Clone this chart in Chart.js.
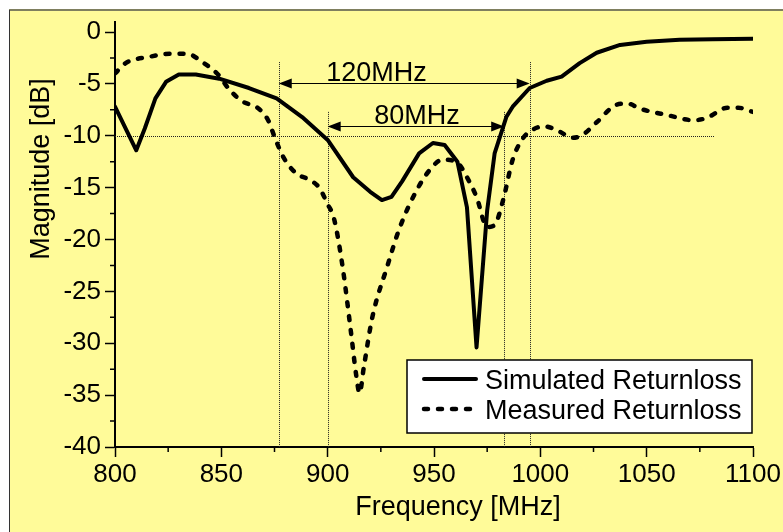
<!DOCTYPE html>
<html>
<head>
<meta charset="utf-8">
<script src="https://cdn.jsdelivr.net/npm/chart.js@4"></script>
<style>
html, body { margin: 0; padding: 0; background: #fff; }
#wrap { width: 783px; height: 532px; }
</style>
</head>
<body>
<div id="wrap"><canvas id="chart"></canvas></div>
<script>
// Simulated return loss (solid)
const simFreq = [800, 810, 814, 819, 824, 830, 838, 849, 863, 876, 888, 900, 912, 920, 925.5, 930, 935, 943, 949.5, 955, 961, 965.5, 970, 975, 978.5, 984, 987, 995, 1003, 1010, 1018.5, 1026.5, 1037.5, 1050, 1065.5, 1081, 1100];
const simMag = [-7.2, -11.4, -9.3, -6.4, -4.8, -4.1, -4.1, -4.5, -5.4, -6.4, -8.2, -10.4, -14.0, -15.4, -16.2, -15.9, -14.4, -11.7, -10.7, -10.9, -12.5, -16.9, -30.4, -17.2, -11.7, -8.2, -7.2, -5.4, -4.7, -4.3, -3.0, -2.0, -1.25, -0.95, -0.75, -0.7, -0.65];

// Measured return loss (dashed)
const measFreq = [800, 805, 816, 826, 834, 841, 848, 854, 860, 867, 872, 875, 879, 885, 892, 896, 900, 903, 907, 911, 913.5, 915, 917, 921, 928, 934, 942, 948, 954, 961, 965.5, 970, 975, 978.5, 982.5, 987, 992, 996.5, 1002, 1009, 1015, 1020, 1026.5, 1036, 1041, 1047, 1059.5, 1072, 1078, 1088, 1093, 1100];
const measMag = [-4.0, -3.0, -2.4, -2.1, -2.1, -2.9, -4.0, -5.6, -6.7, -7.3, -8.5, -10.1, -12.0, -13.6, -14.3, -15.0, -16.6, -18.0, -22.6, -29.0, -33.2, -34.8, -32.3, -27.5, -22.6, -18.8, -15.2, -13.3, -12.3, -12.6, -14.0, -15.9, -18.8, -18.6, -16.2, -12.3, -10.2, -9.4, -9.1, -9.6, -10.2, -9.9, -8.7, -7.0, -6.9, -7.4, -8.0, -8.5, -8.3, -7.3, -7.3, -7.7];

const freqTicks = [800, 850, 900, 950, 1000, 1050, 1100];
const freqMinor = [825, 875, 925, 975, 1025, 1075];
const magTicks = [0, -5, -10, -15, -20, -25, -30, -35, -40];
const magMinor = [-2.5, -7.5, -12.5, -17.5, -22.5, -27.5, -32.5, -37.5];

// bandwidth markers
const bandLabel = ["120MHz", "80MHz"];
const bandLeft = [877, 900];
const bandRight = [995, 983];
const bandLevel = [-4.9, -9.1];
const bandTop = [-2.9, -7.7];
const bandLabelX = [923, 942];
const refLevel = -10;
const refEnd = 1082;

const FONT = '"Liberation Sans", Arial, sans-serif';
Chart.defaults.font.family = FONT;
Chart.defaults.color = "#000";

// yellow panel with its frame
const framePlugin = {
    id: "frame",
    beforeDraw(chart) {
        const ctx = chart.ctx;
        ctx.save();
        ctx.fillStyle = "#fff";
        ctx.fillRect(0, 0, chart.width, chart.height);
        ctx.fillStyle = "#FFFB99";
        ctx.fillRect(10, 10, chart.width - 10, chart.height - 10);
        ctx.strokeStyle = "#7f7f5f";
        ctx.lineWidth = 2;
        ctx.beginPath();
        ctx.moveTo(9, 10);
        ctx.lineTo(chart.width, 10);
        ctx.stroke();
        ctx.strokeStyle = "#333";
        ctx.lineWidth = 1;
        ctx.beginPath();
        ctx.moveTo(9.5, 10);
        ctx.lineTo(9.5, chart.height);
        ctx.stroke();
        ctx.restore();
    }
};

function arrowHead(ctx, x, y, dir) {
    ctx.beginPath();
    ctx.moveTo(x, y);
    ctx.lineTo(x - dir * 13, y - 5);
    ctx.lineTo(x - dir * 13, y + 5);
    ctx.closePath();
    ctx.fill();
}

// dotted reference lines, arrows, minor ticks, titles, legend
const markerPlugin = {
    id: "markers",
    beforeDatasetsDraw(chart) {
        const ctx = chart.ctx;
        const xs = chart.scales.x, ys = chart.scales.y;
        ctx.save();
        ctx.strokeStyle = "#222";
        ctx.lineWidth = 1;
        ctx.setLineDash([1, 1]);
        const yr = Math.round(ys.getPixelForValue(refLevel)) + 0.5;
        ctx.beginPath();
        ctx.moveTo(xs.getPixelForValue(800), yr);
        ctx.lineTo(xs.getPixelForValue(refEnd), yr);
        ctx.stroke();
        for (let i = 0; i < bandLabel.length; i++) {
            [bandLeft[i], bandRight[i]].forEach(f => {
                const x = Math.round(xs.getPixelForValue(f)) + 0.5;
                ctx.beginPath();
                ctx.moveTo(x, ys.getPixelForValue(bandTop[i]));
                ctx.lineTo(x, ys.getPixelForValue(-40));
                ctx.stroke();
            });
        }
        ctx.restore();
    },
    afterDatasetsDraw(chart) {
        const ctx = chart.ctx;
        const xs = chart.scales.x, ys = chart.scales.y;
        const area = chart.chartArea;
        ctx.save();
        ctx.fillStyle = "#000";
        ctx.strokeStyle = "#000";

        // arrows + labels
        ctx.lineWidth = 1;
        ctx.font = "27px " + FONT;
        ctx.textAlign = "center";
        ctx.textBaseline = "alphabetic";
        for (let i = 0; i < bandLabel.length; i++) {
            const x1 = xs.getPixelForValue(bandLeft[i]);
            const x2 = xs.getPixelForValue(bandRight[i]);
            const y = Math.round(ys.getPixelForValue(bandLevel[i])) + 0.5;
            ctx.beginPath();
            ctx.moveTo(x1 + 6, y);
            ctx.lineTo(x2 - 6, y);
            ctx.stroke();
            arrowHead(ctx, x1, y, -1);
            arrowHead(ctx, x2, y, 1);
            ctx.fillText(bandLabel[i], xs.getPixelForValue(bandLabelX[i]), y - 3);
        }

        // minor ticks
        ctx.lineWidth = 1.5;
        ctx.beginPath();
        freqMinor.forEach(f => {
            const x = xs.getPixelForValue(f);
            ctx.moveTo(x, area.bottom);
            ctx.lineTo(x, area.bottom + 5);
        });
        magMinor.forEach(m => {
            const y = ys.getPixelForValue(m);
            ctx.moveTo(area.left, y);
            ctx.lineTo(area.left - 5, y);
        });
        ctx.stroke();

        // axis titles
        ctx.font = "27px " + FONT;
        ctx.fillText("Frequency [MHz]", 458, 515);
        ctx.save();
        ctx.translate(49, 169);
        ctx.rotate(-Math.PI / 2);
        ctx.fillText("Magnitude [dB]", 0, 0);
        ctx.restore();

        // legend
        ctx.fillStyle = "#fff";
        ctx.fillRect(407, 360, 345, 73);
        ctx.lineWidth = 1.5;
        ctx.strokeRect(407, 360, 345, 73);
        ctx.fillStyle = "#000";
        ctx.textAlign = "left";
        chart.data.datasets.forEach((ds, i) => {
            const y = 379 + i * 30;
            ctx.save();
            ctx.lineWidth = ds.borderWidth;
            ctx.lineCap = "round";
            ctx.setLineDash(ds.borderDash || []);
            ctx.beginPath();
            ctx.moveTo(424, y);
            ctx.lineTo(476, y);
            ctx.stroke();
            ctx.restore();
            ctx.fillText(ds.label, 485, y + 10);
        });
        ctx.restore();
    }
};

const ctx = document.getElementById("chart").getContext("2d");
new Chart(ctx, {
    type: "line",
    data: {
        datasets: [{
            label: "Simulated Returnloss",
            data: simFreq.map((f, i) => ({ x: f, y: simMag[i] })),
            borderColor: "#000",
            borderWidth: 4,
            pointRadius: 0,
            tension: 0,
            borderJoinStyle: "round",
            borderCapStyle: "round",
            fill: false
        }, {
            label: "Measured Returnloss",
            data: measFreq.map((f, i) => ({ x: f, y: measMag[i] })),
            borderColor: "#000",
            borderWidth: 4.5,
            borderDash: [4, 10],
            borderCapStyle: "round",
            cubicInterpolationMode: "monotone",
            pointRadius: 0,
            fill: false
        }]
    },
    options: {
        responsive: true,
        maintainAspectRatio: false,
        animation: false,
        layout: { padding: { top: 21.625, right: 30, left: 0, bottom: 0 } },
        plugins: { legend: { display: false }, tooltip: { enabled: false } },
        scales: {
            x: {
                type: "linear",
                min: 800,
                max: 1100,
                afterBuildTicks: s => { s.ticks = freqTicks.map(v => ({ value: v })); },
                afterFit: s => { s.height = 85; },
                grid: { drawOnChartArea: false, color: "#000", tickLength: 10, tickWidth: 1.5 },
                border: { color: "#000", width: 2 },
                ticks: { color: "#000", font: { size: 26 }, padding: 2, maxRotation: 0, autoSkip: false, callback: v => String(v) }
            },
            y: {
                min: -40,
                max: 1,
                afterBuildTicks: s => { s.ticks = magTicks.map(v => ({ value: v })); },
                afterFit: s => { s.width = 115; },
                grid: { drawOnChartArea: false, color: "#000", tickLength: 10, tickWidth: 1.5 },
                border: { color: "#000", width: 2 },
                ticks: { color: "#000", font: { size: 26 }, padding: 4, callback: v => String(v) }
            }
        }
    },
    plugins: [framePlugin, markerPlugin]
});
</script>
</body>
</html>
